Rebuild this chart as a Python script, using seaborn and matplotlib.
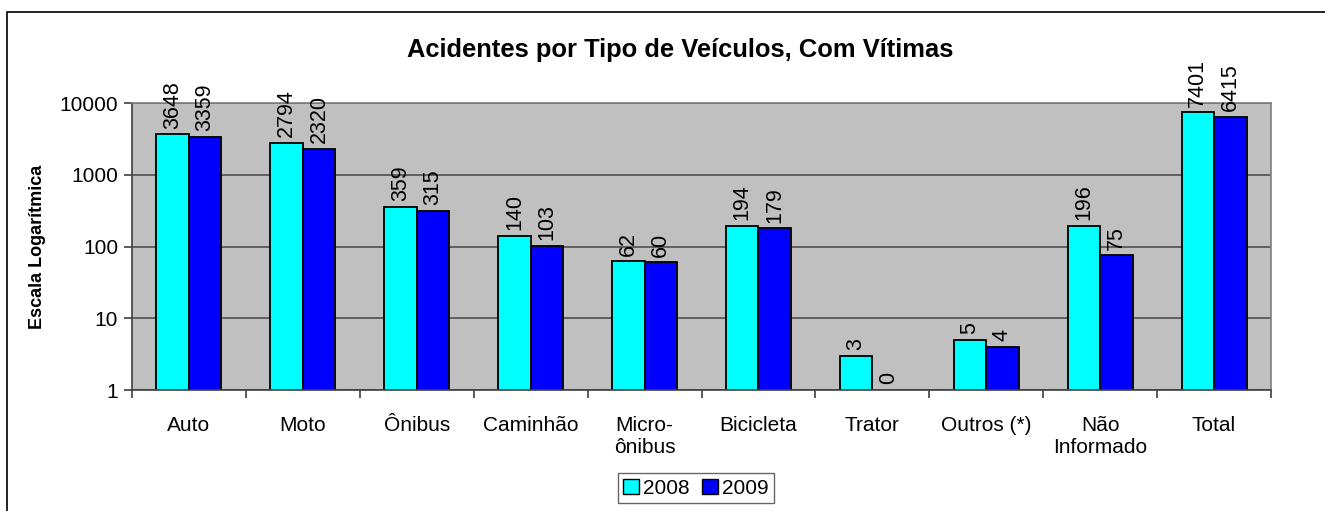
import matplotlib
matplotlib.use("Agg")
import matplotlib.pyplot as plt
import matplotlib.ticker as mticker
from matplotlib.patches import Rectangle
import seaborn as sns
import pandas as pd
import numpy as np

categories = ["Auto", "Moto", "Ônibus", "Caminhão", "Micro-\nônibus", "Bicicleta",
              "Trator", "Outros (*)", "Não\nInformado", "Total"]
values_2008 = [3648, 2794, 359, 140, 62, 194, 3, 5, 196, 7401]
values_2009 = [3359, 2320, 315, 103, 60, 179, 0, 4, 75, 6415]
series = ["2008", "2009"]
yticks = [1, 10, 100, 1000, 10000]
colors = ["#00FFFF", "#0000FF"]

df = pd.DataFrame({
    "categoria": categories * 2,
    "ano": [series[0]] * len(categories) + [series[1]] * len(categories),
    "valor": values_2008 + values_2009,
})

sns.set_theme(style="white")
plt.rcParams["font.family"] = ["Liberation Sans", "DejaVu Sans"]
plt.rcParams["text.color"] = "black"
plt.rcParams["xtick.color"] = "black"
plt.rcParams["ytick.color"] = "black"
plt.rcParams["axes.labelcolor"] = "black"

fig = plt.figure(figsize=(13.25, 5.11), dpi=100)
ax = fig.add_axes([132 / 1325, 1 - 390 / 511, (1271 - 132) / 1325, (390 - 103) / 511])

sns.barplot(data=df, x="categoria", y="valor", hue="ano", palette=colors,
            order=categories, hue_order=series, width=0.57, ax=ax, saturation=1,
            edgecolor="black", linewidth=1.3, errorbar=None, legend=True)

ax.set_yscale("log")
ax.set_ylim(1, 10000)
ax.set_xlim(-0.5, len(categories) - 0.5)
ax.set_facecolor("#C0C0C0")
ax.set_axisbelow(True)
ax.yaxis.set_major_locator(mticker.FixedLocator(yticks))
ax.yaxis.set_major_formatter(mticker.FixedFormatter([str(t) for t in yticks]))
ax.yaxis.set_minor_locator(mticker.NullLocator())
ax.grid(axis="y", which="major", color="#505050", linewidth=1.2)
ax.grid(axis="x", visible=False)

for side in ["top", "right"]:
    ax.spines[side].set_color("#808080")
    ax.spines[side].set_linewidth(1.2)
for side in ["left", "bottom"]:
    ax.spines[side].set_color("#404040")
    ax.spines[side].set_linewidth(1.2)

ax.tick_params(axis="y", which="major", direction="out", length=6, width=1.2,
               color="#404040", labelcolor="black", labelsize=15, pad=4, left=True)
ax.set_xticks(range(len(categories)))
ax.set_xticklabels(categories, fontsize=15, linespacing=1.15)
ax.tick_params(axis="x", which="major", length=0, pad=19, bottom=True, labelcolor="black")
ax.set_xticks(np.arange(-0.5, len(categories), 1.0), minor=True)
ax.tick_params(axis="x", which="minor", direction="out", length=6, width=1.2,
               color="#404040", bottom=True)

ax.set_xlabel("")
ax.set_ylabel("Escala Logarítmica", fontsize=13, fontweight="bold", labelpad=10,
              color="black")

# value labels
for container, vals in zip(ax.containers, [values_2008, values_2009]):
    for patch, v in zip(container.patches, vals):
        xc = patch.get_x() + patch.get_width() / 2
        ybase = v if v > 0 else 1
        ax.annotate(str(v), (xc, ybase), xytext=(0, 4), textcoords="offset points",
                    rotation=90, ha="center", va="bottom", fontsize=15.5,
                    color="black", annotation_clip=False)

# legend
leg = ax.legend(loc="center", bbox_to_anchor=(696 / 1325, 1 - 488 / 511),
                bbox_transform=fig.transFigure, ncol=2, fontsize=15,
                frameon=True, fancybox=False, edgecolor="#404040",
                handlelength=0.75, handleheight=0.75, handletextpad=0.2,
                columnspacing=0.6, borderpad=0.25, borderaxespad=0, title=None)
leg.get_frame().set_linewidth(1.0)
for t in leg.get_texts():
    t.set_color("black")
for h in leg.legend_handles:
    h.set_edgecolor("black")
    h.set_linewidth(1.0)

fig.text(680.5 / 1325, 1 - 50 / 511, "Acidentes por Tipo de Veículos, Com Vítimas",
         ha="center", va="center", fontsize=18.4, fontweight="bold", color="black")

# chart area border
fig.patches.append(Rectangle((7 / 1325, -0.1), 1.2, 1 - 12 / 511 + 0.1,
                             transform=fig.transFigure, fill=False,
                             edgecolor="black", linewidth=1.2))

fig.savefig("out.png", dpi=100)
